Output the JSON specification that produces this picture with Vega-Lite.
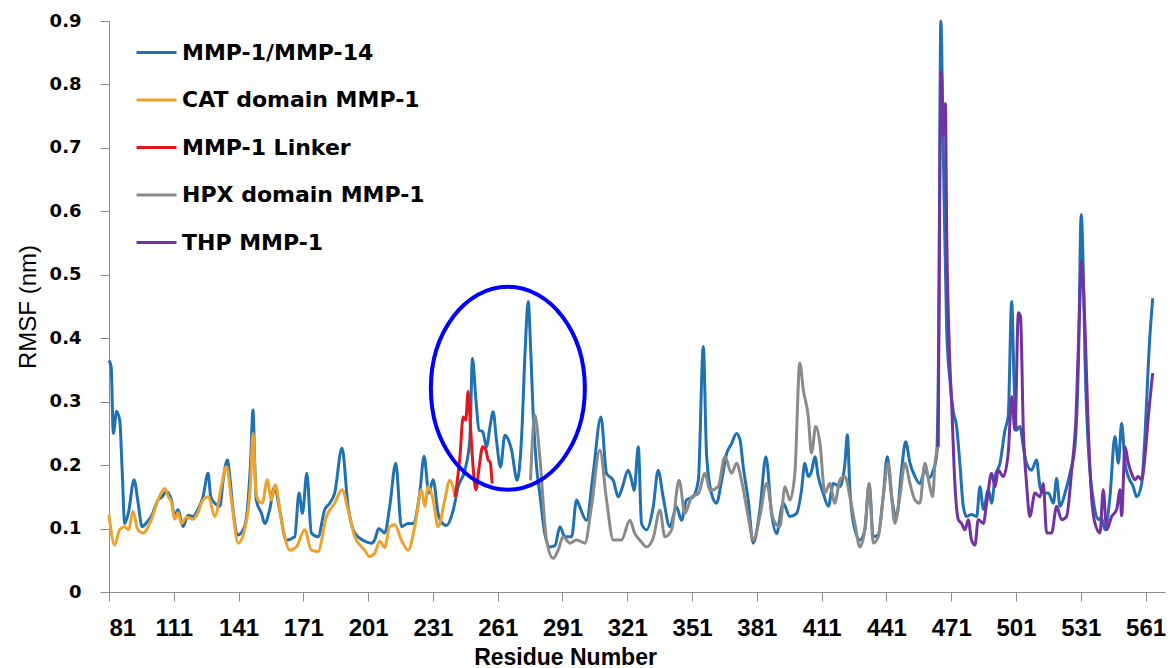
{
  "$schema": "https://vega.github.io/schema/vega-lite/v6.json",
  "width": 1056,
  "height": 571,
  "autosize": {"type": "none"},
  "padding": {"left": 109, "top": 21, "right": 5, "bottom": 76},
  "background": "white",
  "config": {
    "view": {"stroke": null},
    "axis": {
      "grid": false,
      "domainColor": "#8c8c8c",
      "tickColor": "#8c8c8c",
      "labelColor": "#000000",
      "titleColor": "#000000"
    }
  },
  "datasets": {
    "rmsf": [
      {"series": "MMP-1/MMP-14", "residue": 81, "rmsf": 0.365},
      {"series": "MMP-1/MMP-14", "residue": 82, "rmsf": 0.355},
      {"series": "MMP-1/MMP-14", "residue": 83, "rmsf": 0.25},
      {"series": "MMP-1/MMP-14", "residue": 84.5, "rmsf": 0.285},
      {"series": "MMP-1/MMP-14", "residue": 86, "rmsf": 0.27},
      {"series": "MMP-1/MMP-14", "residue": 87, "rmsf": 0.2},
      {"series": "MMP-1/MMP-14", "residue": 88.3, "rmsf": 0.108},
      {"series": "MMP-1/MMP-14", "residue": 90, "rmsf": 0.125},
      {"series": "MMP-1/MMP-14", "residue": 92.6, "rmsf": 0.177},
      {"series": "MMP-1/MMP-14", "residue": 94.5, "rmsf": 0.14},
      {"series": "MMP-1/MMP-14", "residue": 96.3, "rmsf": 0.103},
      {"series": "MMP-1/MMP-14", "residue": 98.5, "rmsf": 0.11},
      {"series": "MMP-1/MMP-14", "residue": 100.6, "rmsf": 0.119},
      {"series": "MMP-1/MMP-14", "residue": 103.7, "rmsf": 0.145},
      {"series": "MMP-1/MMP-14", "residue": 105.5, "rmsf": 0.15},
      {"series": "MMP-1/MMP-14", "residue": 107.6, "rmsf": 0.158},
      {"series": "MMP-1/MMP-14", "residue": 109.9, "rmsf": 0.145},
      {"series": "MMP-1/MMP-14", "residue": 111.4, "rmsf": 0.119},
      {"series": "MMP-1/MMP-14", "residue": 113, "rmsf": 0.13},
      {"series": "MMP-1/MMP-14", "residue": 115.3, "rmsf": 0.103},
      {"series": "MMP-1/MMP-14", "residue": 117.6, "rmsf": 0.121},
      {"series": "MMP-1/MMP-14", "residue": 119.9, "rmsf": 0.119},
      {"series": "MMP-1/MMP-14", "residue": 122.2, "rmsf": 0.13},
      {"series": "MMP-1/MMP-14", "residue": 124.5, "rmsf": 0.15},
      {"series": "MMP-1/MMP-14", "residue": 126.9, "rmsf": 0.187},
      {"series": "MMP-1/MMP-14", "residue": 128.1, "rmsf": 0.15},
      {"series": "MMP-1/MMP-14", "residue": 130, "rmsf": 0.14},
      {"series": "MMP-1/MMP-14", "residue": 132.3, "rmsf": 0.135},
      {"series": "MMP-1/MMP-14", "residue": 134, "rmsf": 0.18},
      {"series": "MMP-1/MMP-14", "residue": 135.8, "rmsf": 0.208},
      {"series": "MMP-1/MMP-14", "residue": 137, "rmsf": 0.18},
      {"series": "MMP-1/MMP-14", "residue": 138.4, "rmsf": 0.13},
      {"series": "MMP-1/MMP-14", "residue": 140.8, "rmsf": 0.09},
      {"series": "MMP-1/MMP-14", "residue": 143.8, "rmsf": 0.103},
      {"series": "MMP-1/MMP-14", "residue": 146.5, "rmsf": 0.2},
      {"series": "MMP-1/MMP-14", "residue": 147.7, "rmsf": 0.287},
      {"series": "MMP-1/MMP-14", "residue": 148.5, "rmsf": 0.2},
      {"series": "MMP-1/MMP-14", "residue": 149.2, "rmsf": 0.145},
      {"series": "MMP-1/MMP-14", "residue": 151.6, "rmsf": 0.124},
      {"series": "MMP-1/MMP-14", "residue": 153.1, "rmsf": 0.108},
      {"series": "MMP-1/MMP-14", "residue": 155.4, "rmsf": 0.13},
      {"series": "MMP-1/MMP-14", "residue": 157.7, "rmsf": 0.166},
      {"series": "MMP-1/MMP-14", "residue": 160, "rmsf": 0.13},
      {"series": "MMP-1/MMP-14", "residue": 163.1, "rmsf": 0.082},
      {"series": "MMP-1/MMP-14", "residue": 167, "rmsf": 0.087},
      {"series": "MMP-1/MMP-14", "residue": 169, "rmsf": 0.156},
      {"series": "MMP-1/MMP-14", "residue": 170.6, "rmsf": 0.124},
      {"series": "MMP-1/MMP-14", "residue": 172.6, "rmsf": 0.187},
      {"series": "MMP-1/MMP-14", "residue": 174.7, "rmsf": 0.093},
      {"series": "MMP-1/MMP-14", "residue": 177.8, "rmsf": 0.087},
      {"series": "MMP-1/MMP-14", "residue": 180.9, "rmsf": 0.13},
      {"series": "MMP-1/MMP-14", "residue": 183.2, "rmsf": 0.14},
      {"series": "MMP-1/MMP-14", "residue": 185.5, "rmsf": 0.156},
      {"series": "MMP-1/MMP-14", "residue": 188.9, "rmsf": 0.227},
      {"series": "MMP-1/MMP-14", "residue": 191.7, "rmsf": 0.135},
      {"series": "MMP-1/MMP-14", "residue": 194.8, "rmsf": 0.093},
      {"series": "MMP-1/MMP-14", "residue": 199.4, "rmsf": 0.08},
      {"series": "MMP-1/MMP-14", "residue": 202.5, "rmsf": 0.077},
      {"series": "MMP-1/MMP-14", "residue": 204, "rmsf": 0.082},
      {"series": "MMP-1/MMP-14", "residue": 205.9, "rmsf": 0.1},
      {"series": "MMP-1/MMP-14", "residue": 208.7, "rmsf": 0.093},
      {"series": "MMP-1/MMP-14", "residue": 211, "rmsf": 0.135},
      {"series": "MMP-1/MMP-14", "residue": 213.8, "rmsf": 0.203},
      {"series": "MMP-1/MMP-14", "residue": 216.4, "rmsf": 0.103},
      {"series": "MMP-1/MMP-14", "residue": 219.5, "rmsf": 0.108},
      {"series": "MMP-1/MMP-14", "residue": 221.8, "rmsf": 0.108},
      {"series": "MMP-1/MMP-14", "residue": 224.9, "rmsf": 0.156},
      {"series": "MMP-1/MMP-14", "residue": 226.9, "rmsf": 0.214},
      {"series": "MMP-1/MMP-14", "residue": 229.1, "rmsf": 0.156},
      {"series": "MMP-1/MMP-14", "residue": 231.1, "rmsf": 0.177},
      {"series": "MMP-1/MMP-14", "residue": 233.4, "rmsf": 0.124},
      {"series": "MMP-1/MMP-14", "residue": 235, "rmsf": 0.11},
      {"series": "MMP-1/MMP-14", "residue": 237.3, "rmsf": 0.105},
      {"series": "MMP-1/MMP-14", "residue": 240.4, "rmsf": 0.129},
      {"series": "MMP-1/MMP-14", "residue": 242.7, "rmsf": 0.166},
      {"series": "MMP-1/MMP-14", "residue": 245.8, "rmsf": 0.192},
      {"series": "MMP-1/MMP-14", "residue": 248.1, "rmsf": 0.24},
      {"series": "MMP-1/MMP-14", "residue": 249.3, "rmsf": 0.368},
      {"series": "MMP-1/MMP-14", "residue": 250.9, "rmsf": 0.303},
      {"series": "MMP-1/MMP-14", "residue": 252.4, "rmsf": 0.255},
      {"series": "MMP-1/MMP-14", "residue": 254, "rmsf": 0.253},
      {"series": "MMP-1/MMP-14", "residue": 255.8, "rmsf": 0.229},
      {"series": "MMP-1/MMP-14", "residue": 257.4, "rmsf": 0.26},
      {"series": "MMP-1/MMP-14", "residue": 258.9, "rmsf": 0.284},
      {"series": "MMP-1/MMP-14", "residue": 260.4, "rmsf": 0.24},
      {"series": "MMP-1/MMP-14", "residue": 262.3, "rmsf": 0.197},
      {"series": "MMP-1/MMP-14", "residue": 264.3, "rmsf": 0.247},
      {"series": "MMP-1/MMP-14", "residue": 265.9, "rmsf": 0.24},
      {"series": "MMP-1/MMP-14", "residue": 267.4, "rmsf": 0.224},
      {"series": "MMP-1/MMP-14", "residue": 270, "rmsf": 0.176},
      {"series": "MMP-1/MMP-14", "residue": 272, "rmsf": 0.24},
      {"series": "MMP-1/MMP-14", "residue": 273.7, "rmsf": 0.38},
      {"series": "MMP-1/MMP-14", "residue": 275.1, "rmsf": 0.458},
      {"series": "MMP-1/MMP-14", "residue": 276.3, "rmsf": 0.38},
      {"series": "MMP-1/MMP-14", "residue": 277.4, "rmsf": 0.282},
      {"series": "MMP-1/MMP-14", "residue": 279, "rmsf": 0.197},
      {"series": "MMP-1/MMP-14", "residue": 280.5, "rmsf": 0.155},
      {"series": "MMP-1/MMP-14", "residue": 282.8, "rmsf": 0.092},
      {"series": "MMP-1/MMP-14", "residue": 285.2, "rmsf": 0.071},
      {"series": "MMP-1/MMP-14", "residue": 287.5, "rmsf": 0.073},
      {"series": "MMP-1/MMP-14", "residue": 289.8, "rmsf": 0.103},
      {"series": "MMP-1/MMP-14", "residue": 292.1, "rmsf": 0.087},
      {"series": "MMP-1/MMP-14", "residue": 295.2, "rmsf": 0.087},
      {"series": "MMP-1/MMP-14", "residue": 297.5, "rmsf": 0.145},
      {"series": "MMP-1/MMP-14", "residue": 299, "rmsf": 0.134},
      {"series": "MMP-1/MMP-14", "residue": 302.1, "rmsf": 0.113},
      {"series": "MMP-1/MMP-14", "residue": 305.2, "rmsf": 0.187},
      {"series": "MMP-1/MMP-14", "residue": 308.8, "rmsf": 0.276},
      {"series": "MMP-1/MMP-14", "residue": 311.4, "rmsf": 0.187},
      {"series": "MMP-1/MMP-14", "residue": 314.5, "rmsf": 0.176},
      {"series": "MMP-1/MMP-14", "residue": 316.8, "rmsf": 0.15},
      {"series": "MMP-1/MMP-14", "residue": 318.8, "rmsf": 0.166},
      {"series": "MMP-1/MMP-14", "residue": 321.4, "rmsf": 0.192},
      {"series": "MMP-1/MMP-14", "residue": 323, "rmsf": 0.176},
      {"series": "MMP-1/MMP-14", "residue": 324.2, "rmsf": 0.16},
      {"series": "MMP-1/MMP-14", "residue": 326.1, "rmsf": 0.229},
      {"series": "MMP-1/MMP-14", "residue": 327.6, "rmsf": 0.108},
      {"series": "MMP-1/MMP-14", "residue": 329.9, "rmsf": 0.098},
      {"series": "MMP-1/MMP-14", "residue": 333, "rmsf": 0.134},
      {"series": "MMP-1/MMP-14", "residue": 335.3, "rmsf": 0.192},
      {"series": "MMP-1/MMP-14", "residue": 337.6, "rmsf": 0.15},
      {"series": "MMP-1/MMP-14", "residue": 340.7, "rmsf": 0.103},
      {"series": "MMP-1/MMP-14", "residue": 343.8, "rmsf": 0.134},
      {"series": "MMP-1/MMP-14", "residue": 346.1, "rmsf": 0.113},
      {"series": "MMP-1/MMP-14", "residue": 348.4, "rmsf": 0.145},
      {"series": "MMP-1/MMP-14", "residue": 351.5, "rmsf": 0.15},
      {"series": "MMP-1/MMP-14", "residue": 353.9, "rmsf": 0.176},
      {"series": "MMP-1/MMP-14", "residue": 356.2, "rmsf": 0.387},
      {"series": "MMP-1/MMP-14", "residue": 357.7, "rmsf": 0.218},
      {"series": "MMP-1/MMP-14", "residue": 360, "rmsf": 0.155},
      {"series": "MMP-1/MMP-14", "residue": 362.3, "rmsf": 0.14},
      {"series": "MMP-1/MMP-14", "residue": 364.7, "rmsf": 0.176},
      {"series": "MMP-1/MMP-14", "residue": 367, "rmsf": 0.218},
      {"series": "MMP-1/MMP-14", "residue": 369.3, "rmsf": 0.234},
      {"series": "MMP-1/MMP-14", "residue": 371.6, "rmsf": 0.25},
      {"series": "MMP-1/MMP-14", "residue": 373.2, "rmsf": 0.24},
      {"series": "MMP-1/MMP-14", "residue": 374.7, "rmsf": 0.197},
      {"series": "MMP-1/MMP-14", "residue": 377, "rmsf": 0.145},
      {"series": "MMP-1/MMP-14", "residue": 379.3, "rmsf": 0.077},
      {"series": "MMP-1/MMP-14", "residue": 382.4, "rmsf": 0.129},
      {"series": "MMP-1/MMP-14", "residue": 385.2, "rmsf": 0.213},
      {"series": "MMP-1/MMP-14", "residue": 387.8, "rmsf": 0.124},
      {"series": "MMP-1/MMP-14", "residue": 390.1, "rmsf": 0.092},
      {"series": "MMP-1/MMP-14", "residue": 393.2, "rmsf": 0.14},
      {"series": "MMP-1/MMP-14", "residue": 396.3, "rmsf": 0.119},
      {"series": "MMP-1/MMP-14", "residue": 399.4, "rmsf": 0.124},
      {"series": "MMP-1/MMP-14", "residue": 401.7, "rmsf": 0.161},
      {"series": "MMP-1/MMP-14", "residue": 403.2, "rmsf": 0.203},
      {"series": "MMP-1/MMP-14", "residue": 404.8, "rmsf": 0.182},
      {"series": "MMP-1/MMP-14", "residue": 406.3, "rmsf": 0.19},
      {"series": "MMP-1/MMP-14", "residue": 407.9, "rmsf": 0.213},
      {"series": "MMP-1/MMP-14", "residue": 409.4, "rmsf": 0.182},
      {"series": "MMP-1/MMP-14", "residue": 411.7, "rmsf": 0.156},
      {"series": "MMP-1/MMP-14", "residue": 414.1, "rmsf": 0.135},
      {"series": "MMP-1/MMP-14", "residue": 416.4, "rmsf": 0.171},
      {"series": "MMP-1/MMP-14", "residue": 419.5, "rmsf": 0.166},
      {"series": "MMP-1/MMP-14", "residue": 421.8, "rmsf": 0.203},
      {"series": "MMP-1/MMP-14", "residue": 422.9, "rmsf": 0.248},
      {"series": "MMP-1/MMP-14", "residue": 424.1, "rmsf": 0.161},
      {"series": "MMP-1/MMP-14", "residue": 426.4, "rmsf": 0.098},
      {"series": "MMP-1/MMP-14", "residue": 428.7, "rmsf": 0.082},
      {"series": "MMP-1/MMP-14", "residue": 431, "rmsf": 0.098},
      {"series": "MMP-1/MMP-14", "residue": 433, "rmsf": 0.171},
      {"series": "MMP-1/MMP-14", "residue": 434.9, "rmsf": 0.087},
      {"series": "MMP-1/MMP-14", "residue": 437.2, "rmsf": 0.09},
      {"series": "MMP-1/MMP-14", "residue": 439.5, "rmsf": 0.15},
      {"series": "MMP-1/MMP-14", "residue": 441.4, "rmsf": 0.213},
      {"series": "MMP-1/MMP-14", "residue": 443.4, "rmsf": 0.15},
      {"series": "MMP-1/MMP-14", "residue": 445.7, "rmsf": 0.119},
      {"series": "MMP-1/MMP-14", "residue": 448, "rmsf": 0.192},
      {"series": "MMP-1/MMP-14", "residue": 449.9, "rmsf": 0.237},
      {"series": "MMP-1/MMP-14", "residue": 451.9, "rmsf": 0.203},
      {"series": "MMP-1/MMP-14", "residue": 454.2, "rmsf": 0.182},
      {"series": "MMP-1/MMP-14", "residue": 456.5, "rmsf": 0.171},
      {"series": "MMP-1/MMP-14", "residue": 458.8, "rmsf": 0.192},
      {"series": "MMP-1/MMP-14", "residue": 460.8, "rmsf": 0.18},
      {"series": "MMP-1/MMP-14", "residue": 462.7, "rmsf": 0.192},
      {"series": "MMP-1/MMP-14", "residue": 464.2, "rmsf": 0.213},
      {"series": "MMP-1/MMP-14", "residue": 465.2, "rmsf": 0.4},
      {"series": "MMP-1/MMP-14", "residue": 466.2, "rmsf": 0.9},
      {"series": "MMP-1/MMP-14", "residue": 467.3, "rmsf": 0.7},
      {"series": "MMP-1/MMP-14", "residue": 468.9, "rmsf": 0.413},
      {"series": "MMP-1/MMP-14", "residue": 470.4, "rmsf": 0.334},
      {"series": "MMP-1/MMP-14", "residue": 472, "rmsf": 0.284},
      {"series": "MMP-1/MMP-14", "residue": 473.5, "rmsf": 0.261},
      {"series": "MMP-1/MMP-14", "residue": 475, "rmsf": 0.203},
      {"series": "MMP-1/MMP-14", "residue": 476.6, "rmsf": 0.135},
      {"series": "MMP-1/MMP-14", "residue": 478.1, "rmsf": 0.119},
      {"series": "MMP-1/MMP-14", "residue": 480.4, "rmsf": 0.122},
      {"series": "MMP-1/MMP-14", "residue": 482.8, "rmsf": 0.119},
      {"series": "MMP-1/MMP-14", "residue": 484.3, "rmsf": 0.166},
      {"series": "MMP-1/MMP-14", "residue": 485.9, "rmsf": 0.13},
      {"series": "MMP-1/MMP-14", "residue": 488.2, "rmsf": 0.161},
      {"series": "MMP-1/MMP-14", "residue": 489.7, "rmsf": 0.14},
      {"series": "MMP-1/MMP-14", "residue": 491.3, "rmsf": 0.182},
      {"series": "MMP-1/MMP-14", "residue": 493.6, "rmsf": 0.203},
      {"series": "MMP-1/MMP-14", "residue": 495.9, "rmsf": 0.255},
      {"series": "MMP-1/MMP-14", "residue": 497.4, "rmsf": 0.277},
      {"series": "MMP-1/MMP-14", "residue": 499, "rmsf": 0.458},
      {"series": "MMP-1/MMP-14", "residue": 500.1, "rmsf": 0.334},
      {"series": "MMP-1/MMP-14", "residue": 501.3, "rmsf": 0.255},
      {"series": "MMP-1/MMP-14", "residue": 502.8, "rmsf": 0.261},
      {"series": "MMP-1/MMP-14", "residue": 504.4, "rmsf": 0.229},
      {"series": "MMP-1/MMP-14", "residue": 505.9, "rmsf": 0.203},
      {"series": "MMP-1/MMP-14", "residue": 508.2, "rmsf": 0.192},
      {"series": "MMP-1/MMP-14", "residue": 510.5, "rmsf": 0.208},
      {"series": "MMP-1/MMP-14", "residue": 512.1, "rmsf": 0.166},
      {"series": "MMP-1/MMP-14", "residue": 513.6, "rmsf": 0.156},
      {"series": "MMP-1/MMP-14", "residue": 516, "rmsf": 0.156},
      {"series": "MMP-1/MMP-14", "residue": 518.3, "rmsf": 0.14},
      {"series": "MMP-1/MMP-14", "residue": 519.8, "rmsf": 0.179},
      {"series": "MMP-1/MMP-14", "residue": 521.4, "rmsf": 0.135},
      {"series": "MMP-1/MMP-14", "residue": 523.7, "rmsf": 0.156},
      {"series": "MMP-1/MMP-14", "residue": 526, "rmsf": 0.187},
      {"series": "MMP-1/MMP-14", "residue": 528.3, "rmsf": 0.229},
      {"series": "MMP-1/MMP-14", "residue": 529.9, "rmsf": 0.361},
      {"series": "MMP-1/MMP-14", "residue": 531.2, "rmsf": 0.595},
      {"series": "MMP-1/MMP-14", "residue": 532.2, "rmsf": 0.5},
      {"series": "MMP-1/MMP-14", "residue": 533, "rmsf": 0.361},
      {"series": "MMP-1/MMP-14", "residue": 534.5, "rmsf": 0.229},
      {"series": "MMP-1/MMP-14", "residue": 536.8, "rmsf": 0.145},
      {"series": "MMP-1/MMP-14", "residue": 539.1, "rmsf": 0.114},
      {"series": "MMP-1/MMP-14", "residue": 540.5, "rmsf": 0.118},
      {"series": "MMP-1/MMP-14", "residue": 542.2, "rmsf": 0.098},
      {"series": "MMP-1/MMP-14", "residue": 544.5, "rmsf": 0.15},
      {"series": "MMP-1/MMP-14", "residue": 546.8, "rmsf": 0.245},
      {"series": "MMP-1/MMP-14", "residue": 548.4, "rmsf": 0.203},
      {"series": "MMP-1/MMP-14", "residue": 549.9, "rmsf": 0.266},
      {"series": "MMP-1/MMP-14", "residue": 551.5, "rmsf": 0.203},
      {"series": "MMP-1/MMP-14", "residue": 553, "rmsf": 0.182},
      {"series": "MMP-1/MMP-14", "residue": 555.3, "rmsf": 0.166},
      {"series": "MMP-1/MMP-14", "residue": 556.9, "rmsf": 0.15},
      {"series": "MMP-1/MMP-14", "residue": 559.2, "rmsf": 0.171},
      {"series": "MMP-1/MMP-14", "residue": 560.7, "rmsf": 0.245},
      {"series": "MMP-1/MMP-14", "residue": 562.7, "rmsf": 0.387},
      {"series": "MMP-1/MMP-14", "residue": 564.3, "rmsf": 0.463},

      {"series": "CAT domain MMP-1", "residue": 81, "rmsf": 0.122},
      {"series": "CAT domain MMP-1", "residue": 83.6, "rmsf": 0.074},
      {"series": "CAT domain MMP-1", "residue": 85.9, "rmsf": 0.098},
      {"series": "CAT domain MMP-1", "residue": 88.3, "rmsf": 0.103},
      {"series": "CAT domain MMP-1", "residue": 90.1, "rmsf": 0.098},
      {"series": "CAT domain MMP-1", "residue": 92.1, "rmsf": 0.127},
      {"series": "CAT domain MMP-1", "residue": 94.4, "rmsf": 0.098},
      {"series": "CAT domain MMP-1", "residue": 96.8, "rmsf": 0.093},
      {"series": "CAT domain MMP-1", "residue": 100.6, "rmsf": 0.114},
      {"series": "CAT domain MMP-1", "residue": 103.7, "rmsf": 0.145},
      {"series": "CAT domain MMP-1", "residue": 106.8, "rmsf": 0.163},
      {"series": "CAT domain MMP-1", "residue": 108.5, "rmsf": 0.15},
      {"series": "CAT domain MMP-1", "residue": 110, "rmsf": 0.14},
      {"series": "CAT domain MMP-1", "residue": 111.4, "rmsf": 0.115},
      {"series": "CAT domain MMP-1", "residue": 113, "rmsf": 0.125},
      {"series": "CAT domain MMP-1", "residue": 114.5, "rmsf": 0.108},
      {"series": "CAT domain MMP-1", "residue": 117, "rmsf": 0.118},
      {"series": "CAT domain MMP-1", "residue": 120, "rmsf": 0.115},
      {"series": "CAT domain MMP-1", "residue": 122.2, "rmsf": 0.125},
      {"series": "CAT domain MMP-1", "residue": 124.5, "rmsf": 0.145},
      {"series": "CAT domain MMP-1", "residue": 127, "rmsf": 0.15},
      {"series": "CAT domain MMP-1", "residue": 130, "rmsf": 0.119},
      {"series": "CAT domain MMP-1", "residue": 133, "rmsf": 0.166},
      {"series": "CAT domain MMP-1", "residue": 135.4, "rmsf": 0.198},
      {"series": "CAT domain MMP-1", "residue": 137.7, "rmsf": 0.145},
      {"series": "CAT domain MMP-1", "residue": 140.8, "rmsf": 0.077},
      {"series": "CAT domain MMP-1", "residue": 143.8, "rmsf": 0.098},
      {"series": "CAT domain MMP-1", "residue": 146.5, "rmsf": 0.17},
      {"series": "CAT domain MMP-1", "residue": 147.7, "rmsf": 0.25},
      {"series": "CAT domain MMP-1", "residue": 149, "rmsf": 0.16},
      {"series": "CAT domain MMP-1", "residue": 150, "rmsf": 0.145},
      {"series": "CAT domain MMP-1", "residue": 152, "rmsf": 0.14},
      {"series": "CAT domain MMP-1", "residue": 154.3, "rmsf": 0.177},
      {"series": "CAT domain MMP-1", "residue": 156.2, "rmsf": 0.145},
      {"series": "CAT domain MMP-1", "residue": 158, "rmsf": 0.169},
      {"series": "CAT domain MMP-1", "residue": 160.8, "rmsf": 0.114},
      {"series": "CAT domain MMP-1", "residue": 164.7, "rmsf": 0.066},
      {"series": "CAT domain MMP-1", "residue": 167.8, "rmsf": 0.071},
      {"series": "CAT domain MMP-1", "residue": 171.6, "rmsf": 0.098},
      {"series": "CAT domain MMP-1", "residue": 174.7, "rmsf": 0.066},
      {"series": "CAT domain MMP-1", "residue": 177.8, "rmsf": 0.064},
      {"series": "CAT domain MMP-1", "residue": 181.7, "rmsf": 0.119},
      {"series": "CAT domain MMP-1", "residue": 185.5, "rmsf": 0.14},
      {"series": "CAT domain MMP-1", "residue": 188.9, "rmsf": 0.161},
      {"series": "CAT domain MMP-1", "residue": 191.7, "rmsf": 0.13},
      {"series": "CAT domain MMP-1", "residue": 194.8, "rmsf": 0.087},
      {"series": "CAT domain MMP-1", "residue": 199.4, "rmsf": 0.066},
      {"series": "CAT domain MMP-1", "residue": 201.7, "rmsf": 0.056},
      {"series": "CAT domain MMP-1", "residue": 204, "rmsf": 0.061},
      {"series": "CAT domain MMP-1", "residue": 206.4, "rmsf": 0.08},
      {"series": "CAT domain MMP-1", "residue": 208.7, "rmsf": 0.07},
      {"series": "CAT domain MMP-1", "residue": 211, "rmsf": 0.103},
      {"series": "CAT domain MMP-1", "residue": 213.3, "rmsf": 0.106},
      {"series": "CAT domain MMP-1", "residue": 216.4, "rmsf": 0.082},
      {"series": "CAT domain MMP-1", "residue": 219.5, "rmsf": 0.066},
      {"series": "CAT domain MMP-1", "residue": 222.6, "rmsf": 0.103},
      {"series": "CAT domain MMP-1", "residue": 225.7, "rmsf": 0.161},
      {"series": "CAT domain MMP-1", "residue": 227.2, "rmsf": 0.135},
      {"series": "CAT domain MMP-1", "residue": 228.8, "rmsf": 0.166},
      {"series": "CAT domain MMP-1", "residue": 231.1, "rmsf": 0.145},
      {"series": "CAT domain MMP-1", "residue": 233.4, "rmsf": 0.103},
      {"series": "CAT domain MMP-1", "residue": 236.5, "rmsf": 0.145},
      {"series": "CAT domain MMP-1", "residue": 238.8, "rmsf": 0.176},
      {"series": "CAT domain MMP-1", "residue": 241.3, "rmsf": 0.15},

      {"series": "MMP-1 Linker", "residue": 241.3, "rmsf": 0.15},
      {"series": "MMP-1 Linker", "residue": 243.5, "rmsf": 0.213},
      {"series": "MMP-1 Linker", "residue": 245, "rmsf": 0.276},
      {"series": "MMP-1 Linker", "residue": 246.2, "rmsf": 0.271},
      {"series": "MMP-1 Linker", "residue": 247.3, "rmsf": 0.316},
      {"series": "MMP-1 Linker", "residue": 248.4, "rmsf": 0.26},
      {"series": "MMP-1 Linker", "residue": 249.6, "rmsf": 0.197},
      {"series": "MMP-1 Linker", "residue": 250.9, "rmsf": 0.161},
      {"series": "MMP-1 Linker", "residue": 252.4, "rmsf": 0.197},
      {"series": "MMP-1 Linker", "residue": 254, "rmsf": 0.229},
      {"series": "MMP-1 Linker", "residue": 255.5, "rmsf": 0.224},
      {"series": "MMP-1 Linker", "residue": 256.6, "rmsf": 0.208},
      {"series": "MMP-1 Linker", "residue": 257.5, "rmsf": 0.205},
      {"series": "MMP-1 Linker", "residue": 258.4, "rmsf": 0.171},

      {"series": "HPX domain MMP-1", "residue": 276.2, "rmsf": 0.176},
      {"series": "HPX domain MMP-1", "residue": 278.2, "rmsf": 0.279},
      {"series": "HPX domain MMP-1", "residue": 280.5, "rmsf": 0.213},
      {"series": "HPX domain MMP-1", "residue": 283.6, "rmsf": 0.082},
      {"series": "HPX domain MMP-1", "residue": 286.7, "rmsf": 0.053},
      {"series": "HPX domain MMP-1", "residue": 289, "rmsf": 0.066},
      {"series": "HPX domain MMP-1", "residue": 291.3, "rmsf": 0.087},
      {"series": "HPX domain MMP-1", "residue": 294.4, "rmsf": 0.077},
      {"series": "HPX domain MMP-1", "residue": 297.5, "rmsf": 0.082},
      {"series": "HPX domain MMP-1", "residue": 301.4, "rmsf": 0.077},
      {"series": "HPX domain MMP-1", "residue": 304.4, "rmsf": 0.134},
      {"series": "HPX domain MMP-1", "residue": 308.3, "rmsf": 0.224},
      {"series": "HPX domain MMP-1", "residue": 311.4, "rmsf": 0.145},
      {"series": "HPX domain MMP-1", "residue": 314.5, "rmsf": 0.082},
      {"series": "HPX domain MMP-1", "residue": 318.3, "rmsf": 0.082},
      {"series": "HPX domain MMP-1", "residue": 322.2, "rmsf": 0.113},
      {"series": "HPX domain MMP-1", "residue": 324.5, "rmsf": 0.092},
      {"series": "HPX domain MMP-1", "residue": 326.8, "rmsf": 0.082},
      {"series": "HPX domain MMP-1", "residue": 329.9, "rmsf": 0.071},
      {"series": "HPX domain MMP-1", "residue": 333, "rmsf": 0.085},
      {"series": "HPX domain MMP-1", "residue": 336.1, "rmsf": 0.129},
      {"series": "HPX domain MMP-1", "residue": 338.4, "rmsf": 0.087},
      {"series": "HPX domain MMP-1", "residue": 341.5, "rmsf": 0.098},
      {"series": "HPX domain MMP-1", "residue": 345, "rmsf": 0.176},
      {"series": "HPX domain MMP-1", "residue": 347.7, "rmsf": 0.124},
      {"series": "HPX domain MMP-1", "residue": 350.8, "rmsf": 0.15},
      {"series": "HPX domain MMP-1", "residue": 353.9, "rmsf": 0.155},
      {"series": "HPX domain MMP-1", "residue": 357, "rmsf": 0.187},
      {"series": "HPX domain MMP-1", "residue": 359.3, "rmsf": 0.16},
      {"series": "HPX domain MMP-1", "residue": 363.1, "rmsf": 0.166},
      {"series": "HPX domain MMP-1", "residue": 366.2, "rmsf": 0.213},
      {"series": "HPX domain MMP-1", "residue": 369.3, "rmsf": 0.187},
      {"series": "HPX domain MMP-1", "residue": 371.6, "rmsf": 0.203},
      {"series": "HPX domain MMP-1", "residue": 373.9, "rmsf": 0.176},
      {"series": "HPX domain MMP-1", "residue": 377, "rmsf": 0.119},
      {"series": "HPX domain MMP-1", "residue": 379.3, "rmsf": 0.082},
      {"series": "HPX domain MMP-1", "residue": 382.4, "rmsf": 0.119},
      {"series": "HPX domain MMP-1", "residue": 385.5, "rmsf": 0.171},
      {"series": "HPX domain MMP-1", "residue": 388.6, "rmsf": 0.115},
      {"series": "HPX domain MMP-1", "residue": 391.7, "rmsf": 0.103},
      {"series": "HPX domain MMP-1", "residue": 394, "rmsf": 0.166},
      {"series": "HPX domain MMP-1", "residue": 396.3, "rmsf": 0.145},
      {"series": "HPX domain MMP-1", "residue": 398.6, "rmsf": 0.187},
      {"series": "HPX domain MMP-1", "residue": 400.9, "rmsf": 0.361},
      {"series": "HPX domain MMP-1", "residue": 402.5, "rmsf": 0.319},
      {"series": "HPX domain MMP-1", "residue": 404.8, "rmsf": 0.277},
      {"series": "HPX domain MMP-1", "residue": 406.3, "rmsf": 0.219},
      {"series": "HPX domain MMP-1", "residue": 408.3, "rmsf": 0.261},
      {"series": "HPX domain MMP-1", "residue": 410.2, "rmsf": 0.235},
      {"series": "HPX domain MMP-1", "residue": 412.5, "rmsf": 0.156},
      {"series": "HPX domain MMP-1", "residue": 414.8, "rmsf": 0.171},
      {"series": "HPX domain MMP-1", "residue": 417.1, "rmsf": 0.14},
      {"series": "HPX domain MMP-1", "residue": 419.5, "rmsf": 0.177},
      {"series": "HPX domain MMP-1", "residue": 421.8, "rmsf": 0.182},
      {"series": "HPX domain MMP-1", "residue": 424.1, "rmsf": 0.15},
      {"series": "HPX domain MMP-1", "residue": 426.4, "rmsf": 0.108},
      {"series": "HPX domain MMP-1", "residue": 428.7, "rmsf": 0.071},
      {"series": "HPX domain MMP-1", "residue": 431, "rmsf": 0.098},
      {"series": "HPX domain MMP-1", "residue": 433, "rmsf": 0.171},
      {"series": "HPX domain MMP-1", "residue": 434.9, "rmsf": 0.077},
      {"series": "HPX domain MMP-1", "residue": 437.2, "rmsf": 0.087},
      {"series": "HPX domain MMP-1", "residue": 439.5, "rmsf": 0.15},
      {"series": "HPX domain MMP-1", "residue": 441.8, "rmsf": 0.203},
      {"series": "HPX domain MMP-1", "residue": 444.9, "rmsf": 0.108},
      {"series": "HPX domain MMP-1", "residue": 447.2, "rmsf": 0.15},
      {"series": "HPX domain MMP-1", "residue": 449.6, "rmsf": 0.203},
      {"series": "HPX domain MMP-1", "residue": 451.9, "rmsf": 0.171},
      {"series": "HPX domain MMP-1", "residue": 454.2, "rmsf": 0.145},
      {"series": "HPX domain MMP-1", "residue": 456.5, "rmsf": 0.14},
      {"series": "HPX domain MMP-1", "residue": 458.8, "rmsf": 0.203},
      {"series": "HPX domain MMP-1", "residue": 460.8, "rmsf": 0.171},
      {"series": "HPX domain MMP-1", "residue": 462.4, "rmsf": 0.15},
      {"series": "HPX domain MMP-1", "residue": 463.5, "rmsf": 0.203},
      {"series": "HPX domain MMP-1", "residue": 465, "rmsf": 0.229},

      {"series": "THP MMP-1", "residue": 465, "rmsf": 0.229},
      {"series": "THP MMP-1", "residue": 466.4, "rmsf": 0.82},
      {"series": "THP MMP-1", "residue": 467.3, "rmsf": 0.72},
      {"series": "THP MMP-1", "residue": 468.3, "rmsf": 0.77},
      {"series": "THP MMP-1", "residue": 468.9, "rmsf": 0.571},
      {"series": "THP MMP-1", "residue": 470.1, "rmsf": 0.387},
      {"series": "THP MMP-1", "residue": 471.2, "rmsf": 0.298},
      {"series": "THP MMP-1", "residue": 472.7, "rmsf": 0.171},
      {"series": "THP MMP-1", "residue": 474.3, "rmsf": 0.114},
      {"series": "THP MMP-1", "residue": 475.8, "rmsf": 0.108},
      {"series": "THP MMP-1", "residue": 477.4, "rmsf": 0.098},
      {"series": "THP MMP-1", "residue": 478.9, "rmsf": 0.114},
      {"series": "THP MMP-1", "residue": 480.4, "rmsf": 0.082},
      {"series": "THP MMP-1", "residue": 482, "rmsf": 0.074},
      {"series": "THP MMP-1", "residue": 483.5, "rmsf": 0.114},
      {"series": "THP MMP-1", "residue": 485.9, "rmsf": 0.108},
      {"series": "THP MMP-1", "residue": 487.4, "rmsf": 0.14},
      {"series": "THP MMP-1", "residue": 489.7, "rmsf": 0.187},
      {"series": "THP MMP-1", "residue": 491.3, "rmsf": 0.166},
      {"series": "THP MMP-1", "residue": 492.8, "rmsf": 0.192},
      {"series": "THP MMP-1", "residue": 495.1, "rmsf": 0.182},
      {"series": "THP MMP-1", "residue": 497.4, "rmsf": 0.219},
      {"series": "THP MMP-1", "residue": 499, "rmsf": 0.308},
      {"series": "THP MMP-1", "residue": 500.5, "rmsf": 0.255},
      {"series": "THP MMP-1", "residue": 502.1, "rmsf": 0.44},
      {"series": "THP MMP-1", "residue": 503.1, "rmsf": 0.434},
      {"series": "THP MMP-1", "residue": 504.4, "rmsf": 0.255},
      {"series": "THP MMP-1", "residue": 505.9, "rmsf": 0.171},
      {"series": "THP MMP-1", "residue": 507.4, "rmsf": 0.119},
      {"series": "THP MMP-1", "residue": 509.8, "rmsf": 0.156},
      {"series": "THP MMP-1", "residue": 512.1, "rmsf": 0.15},
      {"series": "THP MMP-1", "residue": 513.6, "rmsf": 0.171},
      {"series": "THP MMP-1", "residue": 515.2, "rmsf": 0.093},
      {"series": "THP MMP-1", "residue": 517.5, "rmsf": 0.093},
      {"series": "THP MMP-1", "residue": 519.8, "rmsf": 0.135},
      {"series": "THP MMP-1", "residue": 522.1, "rmsf": 0.114},
      {"series": "THP MMP-1", "residue": 524.4, "rmsf": 0.119},
      {"series": "THP MMP-1", "residue": 526.8, "rmsf": 0.192},
      {"series": "THP MMP-1", "residue": 528.8, "rmsf": 0.277},
      {"series": "THP MMP-1", "residue": 530.5, "rmsf": 0.45},
      {"series": "THP MMP-1", "residue": 531.4, "rmsf": 0.52},
      {"series": "THP MMP-1", "residue": 533, "rmsf": 0.413},
      {"series": "THP MMP-1", "residue": 534.5, "rmsf": 0.255},
      {"series": "THP MMP-1", "residue": 536, "rmsf": 0.15},
      {"series": "THP MMP-1", "residue": 537.6, "rmsf": 0.108},
      {"series": "THP MMP-1", "residue": 539.9, "rmsf": 0.093},
      {"series": "THP MMP-1", "residue": 541.4, "rmsf": 0.161},
      {"series": "THP MMP-1", "residue": 543, "rmsf": 0.098},
      {"series": "THP MMP-1", "residue": 545.3, "rmsf": 0.119},
      {"series": "THP MMP-1", "residue": 547.6, "rmsf": 0.13},
      {"series": "THP MMP-1", "residue": 549.2, "rmsf": 0.161},
      {"series": "THP MMP-1", "residue": 549.9, "rmsf": 0.12},
      {"series": "THP MMP-1", "residue": 551.5, "rmsf": 0.229},
      {"series": "THP MMP-1", "residue": 553, "rmsf": 0.203},
      {"series": "THP MMP-1", "residue": 554.5, "rmsf": 0.187},
      {"series": "THP MMP-1", "residue": 556.1, "rmsf": 0.177},
      {"series": "THP MMP-1", "residue": 557.6, "rmsf": 0.182},
      {"series": "THP MMP-1", "residue": 559.2, "rmsf": 0.177},
      {"series": "THP MMP-1", "residue": 560.7, "rmsf": 0.213},
      {"series": "THP MMP-1", "residue": 562.3, "rmsf": 0.277},
      {"series": "THP MMP-1", "residue": 564.3, "rmsf": 0.345}
    ],
    "highlight": [
      {"region": "linker", "residue": 265.7, "rmsf": 0.321}
    ]
  },
  "encoding": {
    "x": {
      "field": "residue",
      "type": "quantitative",
      "scale": {"domain": [81, 570], "nice": false, "zero": false},
      "axis": {
        "values": [81, 111, 141, 171, 201, 231, 261, 291, 321, 351, 381, 411, 441, 471, 501, 531, 561],
        "format": "d",
        "tickSize": 9,
        "labelFont": "Liberation Sans",
        "labelFontWeight": "bold",
        "labelFontSize": 24,
        "labelPadding": 15,
        "title": "Residue Number",
        "titleFont": "Liberation Sans",
        "titleFontWeight": "bold",
        "titleFontSize": 23,
        "titlePadding": 6,
        "titleX": 456
      }
    },
    "y": {
      "field": "rmsf",
      "type": "quantitative",
      "scale": {"domain": [0, 0.9], "nice": false},
      "axis": {
        "values": [0, 0.1, 0.2, 0.3, 0.4, 0.5, 0.6, 0.7, 0.8, 0.9],
        "format": ".1~f",
        "tickSize": 9,
        "labelFont": "DejaVu Sans",
        "labelFontWeight": "bold",
        "labelFontSize": 18,
        "labelPadding": 19,
        "title": "RMSF (nm)",
        "titleFont": "Liberation Sans",
        "titleFontWeight": "normal",
        "titleFontSize": 24,
        "titlePadding": 9
      }
    }
  },
  "layer": [
    {
      "data": {"name": "rmsf"},
      "transform": [{"filter": "datum.series === 'MMP-1/MMP-14'"}],
      "mark": {"type": "line", "strokeWidth": 3, "interpolate": "monotone"},
      "encoding": {
        "color": {
          "field": "series",
          "type": "nominal",
          "scale": {
            "domain": ["MMP-1/MMP-14", "CAT domain MMP-1", "MMP-1 Linker", "HPX domain MMP-1", "THP MMP-1"],
            "range": ["#1f71b2", "#eca22c", "#e3161c", "#8a8a8a", "#7232a2"]
          },
          "legend": {
            "orient": "none",
            "legendX": 26,
            "legendY": 10,
            "title": null,
            "padding": 0,
            "symbolType": "stroke",
            "symbolSize": 1600,
            "symbolStrokeWidth": 3,
            "labelFont": "DejaVu Sans",
            "labelFontWeight": "bold",
            "labelFontSize": 22,
            "labelColor": "#000000",
            "labelOffset": 4,
            "labelLimit": 400,
            "rowPadding": 14.5
          }
        }
      }
    },
    {
      "data": {"name": "rmsf"},
      "transform": [{"filter": "datum.series !== 'MMP-1/MMP-14'"}],
      "mark": {"type": "line", "strokeWidth": 3, "interpolate": "monotone"},
      "encoding": {
        "color": {"field": "series", "type": "nominal"}
      }
    },
    {
      "data": {"name": "highlight"},
      "mark": {
        "type": "point",
        "shape": "M-0.7586,0C-0.7586,-0.5523,-0.419,-1,0,-1C0.419,-1,0.7586,-0.5523,0.7586,0C0.7586,0.5523,0.419,1,0,1C-0.419,1,-0.7586,0.5523,-0.7586,0Z",
        "size": 41209,
        "filled": false,
        "stroke": "#0000ff",
        "strokeWidth": 4,
        "opacity": 1
      }
    }
  ]
}
